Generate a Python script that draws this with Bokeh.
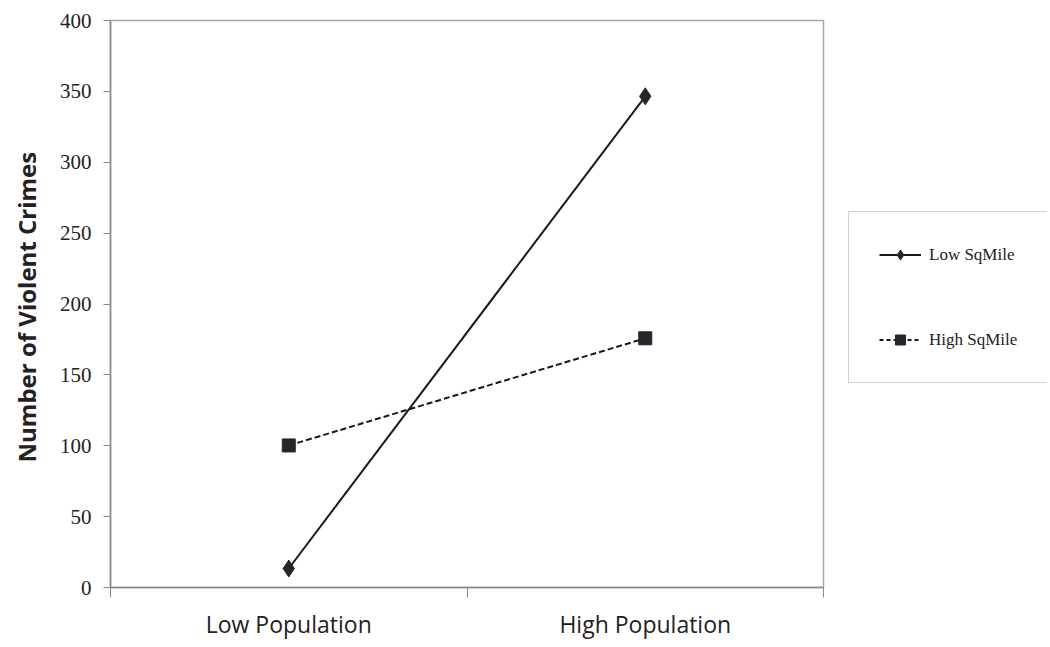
from bokeh.plotting import figure
from bokeh.models import Range1d, FixedTicker, Legend, LegendItem
from bokeh.layouts import row
from bokeh.embed import file_html
from bokeh.resources import INLINE

categories = ["Low Population", "High Population"]
series_names = ["Low SqMile", "High SqMile"]
low_sqmile = [13.4, 346.5]
high_sqmile = [100.2, 175.8]
y_ticks = [0, 50, 100, 150, 200, 250, 300, 350, 400]

xs = [i + 0.5 for i in range(len(categories))]

p = figure(frame_width=713, frame_height=567, output_backend="svg", toolbar_location=None,
           x_range=Range1d(0, len(categories)), y_range=Range1d(0, 400),
           min_border_left=110, min_border_top=20, min_border_bottom=0, min_border_right=2)

p.xgrid.visible = False
p.ygrid.visible = False
p.outline_line_color = "#a6a6a6"
p.outline_line_width = 1.5

ink = "#24262e"
line_ink = "#1a1a1a"
r1 = p.line(xs, low_sqmile, line_color=line_ink, line_width=2)
r1m = p.scatter(xs, low_sqmile, marker="diamond", size=17, fill_color=ink, line_color=ink)
r2 = p.line(xs, high_sqmile, line_color=line_ink, line_width=2, line_dash="6 3")
r2m = p.scatter(xs, high_sqmile, marker="square", size=13, fill_color=ink, line_color=ink)

# x axis
xa = p.xaxis[0]
xa.ticker = FixedTicker(ticks=xs, minor_ticks=list(range(len(categories) + 1)))
xa.major_label_overrides = {x: c for x, c in zip(xs, categories)}
xa.major_tick_out = 0
xa.major_tick_in = 0
xa.minor_tick_out = 10
xa.minor_tick_in = 0
xa.minor_tick_line_color = "#888888"
xa.axis_line_color = "#888888"
xa.axis_line_width = 1.5
xa.major_label_text_font = "Open Sans"
xa.major_label_text_font_size = "23px"
xa.major_label_text_color = "#222222"
xa.major_label_standoff = 10

ya = p.yaxis[0]
ya.ticker = FixedTicker(ticks=y_ticks)
ya.minor_tick_line_color = None
ya.major_tick_out = 7
ya.major_tick_in = 0
ya.major_tick_line_color = "#888888"
ya.axis_line_color = "#888888"
ya.axis_line_width = 1.5
ya.major_label_text_font = "Liberation Serif"
ya.major_label_text_font_size = "21px"
ya.major_label_text_color = "#222222"
ya.major_label_standoff = 12
ya.axis_label = "Number of  Violent Crimes"
ya.axis_label_text_font = "Open Sans"
ya.axis_label_text_font_style = "bold"
ya.axis_label_text_font_size = "24px"
ya.axis_label_text_color = "#222222"
ya.axis_label_standoff = 14

# legend panel as a separate small figure (its glyphs lie outside its visible range)
lg = figure(width=222, height=638, output_backend="svg", toolbar_location=None,
            x_range=Range1d(100, 101), y_range=Range1d(10000, 10001),
            min_border=0, outline_line_color=None)
lg.axis.visible = False
lg.grid.visible = False
l1 = lg.line(xs, low_sqmile, line_color=line_ink, line_width=2)
l1m = lg.scatter(xs, low_sqmile, marker="diamond", size=13, fill_color=ink, line_color=ink)
l2 = lg.line(xs, high_sqmile, line_color=line_ink, line_width=2, line_dash="4 3")
l2m = lg.scatter(xs, high_sqmile, marker="square", size=11, fill_color=ink, line_color=ink)

legend = Legend(items=[LegendItem(label=series_names[0], renderers=[l1, l1m]),
                       LegendItem(label=series_names[1], renderers=[l2, l2m])],
                location=(23, 200))
legend.border_line_color = "#a6a6a6"
legend.border_line_width = 1.5
legend.label_text_font = "Liberation Serif"
legend.label_text_font_size = "17px"
legend.label_text_color = "#222222"
legend.glyph_width = 42
legend.glyph_height = 25
legend.label_height = 25
legend.spacing = 60
legend.padding = 30
legend.label_standoff = 8
legend.margin = 0
lg.add_layout(legend, "center")

layout = row(p, lg, spacing=0)
open("out.html", "w").write(file_html(layout, INLINE))
